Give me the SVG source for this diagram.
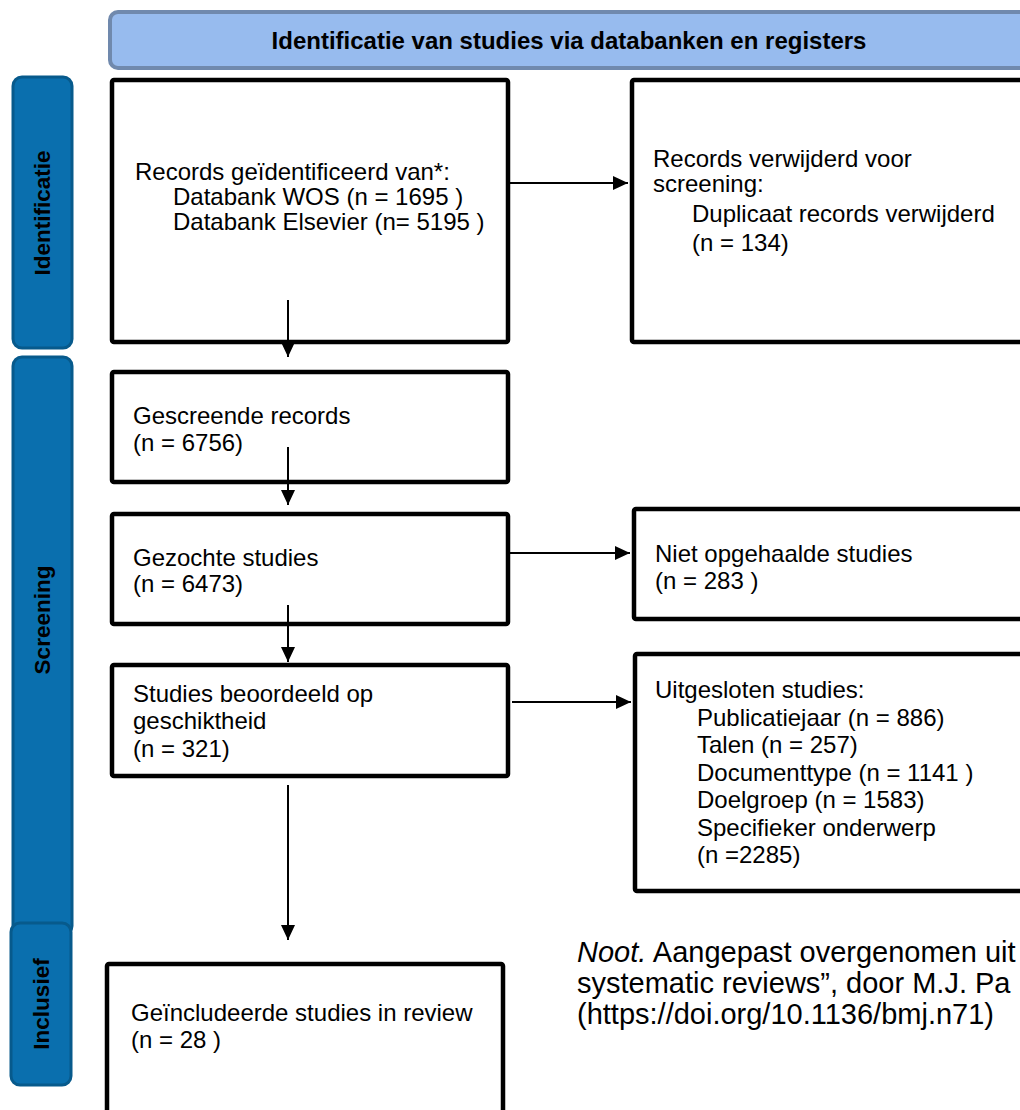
<svg xmlns="http://www.w3.org/2000/svg" width="1020" height="1110" viewBox="0 0 1020 1110">
  <style>
    .box { fill: #ffffff; stroke: #000000; stroke-width: 4.5; }
    .t { font-family: "Liberation Sans", Arial, sans-serif; font-size: 24px; fill: #000000; }
    .phase { fill: #0a6fae; stroke: #075a8c; stroke-width: 3; }
    .phase-t { font-family: "Liberation Sans", Arial, sans-serif; font-size: 22.5px; font-weight: bold; fill: #000000; text-anchor: middle; }
    .head { fill: #97bbee; stroke: #7089ad; stroke-width: 4; }
    .head-t { font-family: "Liberation Sans", Arial, sans-serif; font-size: 24px; font-weight: bold; fill: #000000; text-anchor: middle; }
    .note { font-family: "Liberation Sans", Arial, sans-serif; font-size: 29px; fill: #000000; }
    .arr { stroke: #000000; stroke-width: 2; fill: none; marker-end: url(#tip); }
  </style>
  <defs>
    <marker id="tip" markerUnits="userSpaceOnUse" markerWidth="15" markerHeight="14" refX="15" refY="7" orient="auto">
      <path d="M0,0 L15,7 L0,14 Z" fill="#000000"/>
    </marker>
  </defs>

  <rect width="1020" height="1110" fill="#ffffff"/>

  <!-- header banner -->
  <g id="header">
    <rect class="head" x="110" y="12" width="930" height="56" rx="8"/>
    <text class="head-t" x="569" y="49">Identificatie van studies via databanken en registers</text>
  </g>

  <!-- phase labels -->
  <g id="phase-identificatie">
    <rect class="phase" x="13" y="77" width="59" height="271" rx="9"/>
    <text class="phase-t" transform="translate(50,213) rotate(-90)">Identificatie</text>
  </g>
  <g id="phase-screening">
    <rect class="phase" x="13" y="357" width="59" height="578" rx="9"/>
    <text class="phase-t" transform="translate(50,620) rotate(-90)">Screening</text>
  </g>
  <g id="phase-inclusief">
    <rect class="phase" x="11" y="923" width="60" height="162" rx="9"/>
    <text class="phase-t" transform="translate(49,1004) rotate(-90)">Inclusief</text>
  </g>

  <!-- flow boxes -->
  <g id="identified">
    <rect class="box" x="112" y="80" width="396" height="262" rx="2"/>
    <text class="t" x="135" y="180">Records geïdentificeerd van*:</text>
    <text class="t" x="173" y="205">Databank WOS (n = 1695 )</text>
    <text class="t" x="173" y="230">Databank Elsevier (n= 5195 )</text>
  </g>
  <g id="removed">
    <rect class="box" x="632" y="80" width="420" height="262" rx="2"/>
    <text class="t" x="653" y="167">Records verwijderd voor</text>
    <text class="t" x="653" y="192">screening:</text>
    <text class="t" x="692" y="222">Duplicaat records verwijderd</text>
    <text class="t" x="692" y="251">(n = 134)</text>
  </g>
  <g id="screened">
    <rect class="box" x="112" y="372" width="396" height="110" rx="2"/>
    <text class="t" x="133" y="424">Gescreende records</text>
    <text class="t" x="133" y="451">(n = 6756)</text>
  </g>
  <g id="sought">
    <rect class="box" x="112" y="514" width="396" height="110" rx="2"/>
    <text class="t" x="133" y="566">Gezochte studies</text>
    <text class="t" x="133" y="592">(n = 6473)</text>
  </g>
  <g id="not-retrieved">
    <rect class="box" x="634" y="509" width="420" height="110" rx="2"/>
    <text class="t" x="655" y="562">Niet opgehaalde studies</text>
    <text class="t" x="655" y="589">(n = 283 )</text>
  </g>
  <g id="assessed">
    <rect class="box" x="112" y="665" width="396" height="111" rx="2"/>
    <text class="t" x="133" y="702">Studies beoordeeld op</text>
    <text class="t" x="133" y="729">geschiktheid</text>
    <text class="t" x="133" y="757">(n = 321)</text>
  </g>
  <g id="excluded">
    <rect class="box" x="635" y="654" width="420" height="237" rx="2"/>
    <text class="t" x="655" y="698">Uitgesloten studies:</text>
    <text class="t" x="697" y="725.5">Publicatiejaar (n = 886)</text>
    <text class="t" x="697" y="753">Talen (n = 257)</text>
    <text class="t" x="697" y="780.5">Documenttype (n = 1141 )</text>
    <text class="t" x="697" y="808">Doelgroep (n = 1583)</text>
    <text class="t" x="697" y="835.5">Specifieker onderwerp</text>
    <text class="t" x="697" y="863">(n =2285)</text>
  </g>
  <g id="included">
    <rect class="box" x="107" y="964" width="396" height="170" rx="2"/>
    <text class="t" x="131" y="1021">Geïncludeerde studies in review</text>
    <text class="t" x="131" y="1048">(n = 28 )</text>
  </g>

  <!-- connectors -->
  <g id="connectors">
    <line class="arr" x1="288" y1="300" x2="288" y2="357"/>
    <line class="arr" x1="510" y1="183" x2="628" y2="183"/>
    <line class="arr" x1="288" y1="447" x2="288" y2="505"/>
    <line class="arr" x1="288" y1="605" x2="288" y2="662"/>
    <line class="arr" x1="510" y1="553" x2="630" y2="553"/>
    <line class="arr" x1="512" y1="702" x2="631" y2="702"/>
    <line class="arr" x1="288" y1="785" x2="288" y2="940"/>
  </g>

  <!-- source note -->
  <g id="note">
    <text class="note" x="577" y="962"><tspan font-style="italic">Noot.</tspan> Aangepast overgenomen uit</text>
    <text class="note" x="577" y="993">systematic reviews”, door M.J. Pa</text>
    <text class="note" x="577" y="1024">(https://doi.org/10.1136/bmj.n71)</text>
  </g>
</svg>
